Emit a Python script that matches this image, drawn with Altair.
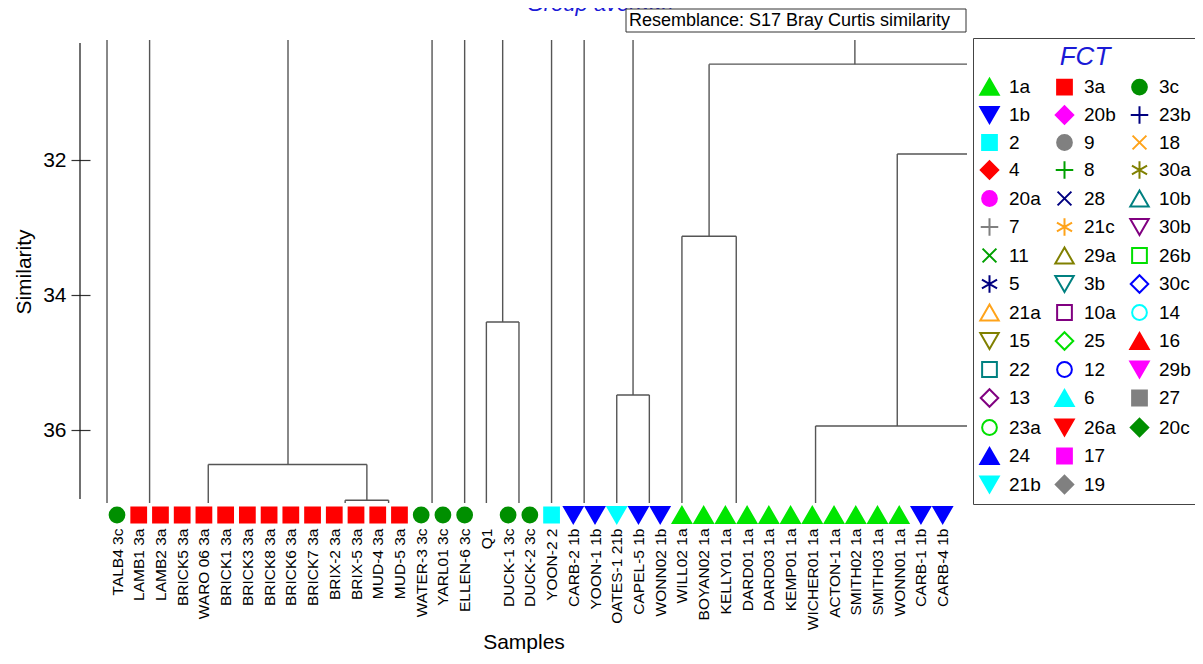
import json
import altair as alt
import pandas as pd

FONT = "Liberation Sans"

# ---------------- data ----------------
leaf_names = ["TALB4 3c", "LAMB1 3a", "LAMB2 3a", "BRICK5 3a", "WARO 06 3a", "BRICK1 3a",
              "BRICK3 3a", "BRICK8 3a", "BRICK6 3a", "BRICK7 3a", "BRIX-2 3a", "BRIX-5 3a",
              "MUD-4 3a", "MUD-5 3a", "WATER-3 3c", "YARL01 3c", "ELLEN-6 3c", "Q1",
              "DUCK-1 3c", "DUCK-2 3c", "YOON-2 2", "CARB-2 1b", "YOON-1 1b", "OATES-1 21b",
              "CAPEL-5 1b", "WONN02 1b", "WILL02 1a", "BOYAN02 1a", "KELLY01 1a", "DARD01 1a",
              "DARD03 1a", "KEMP01 1a", "WICHER01 1a", "ACTON-1 1a", "SMITH02 1a", "SMITH03 1a",
              "WONN01 1a", "CARB-1 1b", "CARB-4 1b"]
leaf_fct = ["3c", "3a", "3a", "3a", "3a", "3a", "3a", "3a", "3a", "3a", "3a", "3a", "3a", "3a",
            "3c", "3c", "3c", "", "3c", "3c", "2", "1b", "1b", "21b", "1b", "1b",
            "1a", "1a", "1a", "1a", "1a", "1a", "1a", "1a", "1a", "1a", "1a", "1b", "1b"]

# dendrogram segments (x in leaf positions, y in similarity); parts beyond the window are clipped
seg_x1 = [-0.46, 1.5, 7.87, 4.2, 4.2, 11.5, 10.5, 10.5, 12.5, 14.5, 16.0,
          17.75, 17.0, 17.0, 18.5, 20.0, 21.5, 23.75, 23.0, 23.0, 24.5,
          33.96, 27.25, 27.25, 26.0, 26.0, 28.5, 35.91, 35.91, 32.15, 32.15]
seg_x2 = [-0.46, 1.5, 7.87, 11.5, 4.2, 11.5, 12.5, 10.5, 12.5, 14.5, 16.0,
          17.75, 18.5, 17.0, 18.5, 20.0, 21.5, 23.75, 24.5, 23.0, 24.5,
          33.96, 41.0, 27.25, 28.5, 26.0, 28.5, 41.0, 35.91, 41.0, 32.15]
seg_y1 = [30.0, 30.0, 30.0, 36.51, 36.51, 36.51, 37.04, 37.04, 37.04, 30.0, 30.0,
          30.0, 34.40, 34.40, 34.40, 30.0, 30.0, 30.0, 35.48, 35.48, 35.48,
          30.0, 30.58, 30.58, 33.13, 33.13, 33.13, 31.91, 31.91, 35.94, 35.94]
seg_y2 = [37.3, 37.3, 36.51, 36.51, 37.3, 37.04, 37.04, 37.3, 37.3, 37.3, 37.3,
          34.40, 34.40, 37.3, 37.3, 37.3, 37.3, 35.48, 35.48, 37.3, 37.3,
          30.58, 30.58, 33.13, 33.13, 37.3, 37.3, 31.91, 35.94, 35.94, 37.3]

y_ticks = [32, 34, 36]

# legend entries, column by column (3 columns); " " is an empty slot
fct_codes = ["1a", "1b", "2", "4", "20a", "7", "11", "5", "21a", "15", "22", "13", "23a", "24", "21b",
             "3a", "20b", "9", "8", "28", "21c", "29a", "3b", "10a", "25", "12", "6", "26a", "17", "19",
             "3c", "23b", "18", "30a", "10b", "30b", "26b", "30c", "14", "16", "29b", "27", "20c", " "]
fct_kind = ["tri_up", "tri_down", "square", "diamond", "circle", "plus", "x", "star",
            "tri_up", "tri_down", "square", "diamond", "circle", "tri_up", "tri_down",
            "square", "diamond", "circle", "plus", "x", "star", "tri_up", "tri_down",
            "square", "diamond", "circle", "tri_up", "tri_down", "square", "diamond",
            "circle", "plus", "x", "star", "tri_up", "tri_down", "square", "diamond",
            "circle", "tri_up", "tri_down", "square", "diamond", "square"]
fct_filled = [True, True, True, True, True, False, False, False,
              False, False, False, False, False, True, True,
              True, True, True, False, False, False, False, False,
              False, False, False, True, True, True, True,
              True, False, False, False, False, False, False, False,
              False, True, True, True, True, False]
fct_color = ["#00e600", "#0000ff", "#00ffff", "#ff0000", "#ff00ff", "#808080", "#00a000", "#000080",
             "#ffa31a", "#808000", "#008080", "#800080", "#00e000", "#0000ff", "#00ffff",
             "#ff0000", "#ff00ff", "#808080", "#00a000", "#000080", "#ffa31a", "#808000", "#008080",
             "#800080", "#00e000", "#0000ff", "#00ffff", "#ff0000", "#ff00ff", "#808080",
             "#008f00", "#000080", "#ffa31a", "#808000", "#008080", "#800080", "#00e000", "#0000ff",
             "#00ffff", "#ff0000", "#ff00ff", "#808080", "#008f00", "transparent"]

# ---------------- styling helpers ----------------
PATHS = {
    "tri_up": "M0,-0.87L1,0.87L-1,0.87Z",
    "tri_down": "M-1,-0.87L1,-0.87L0,0.87Z",
    "square": "M-0.8,-0.8L0.8,-0.8L0.8,0.8L-0.8,0.8Z",
    "circle": "M0.8,0A0.8,0.8 0 1,1 -0.8,0A0.8,0.8 0 1,1 0.8,0Z",
    "diamond": "M0,-0.95L0.95,0L0,0.95L-0.95,0Z",
    "plus": "M-0.95,0L0.95,0M0,-0.95L0,0.95",
    "x": "M-0.75,-0.75L0.75,0.75M-0.75,0.75L0.75,-0.75",
    "star": "M0,-0.95L0,0.95M-0.82,-0.47L0.82,0.47M-0.82,0.47L0.82,-0.47",
}
shape_range = [PATHS[k] for k in fct_kind]
fill_range = [c if f else "transparent" for c, f in zip(fct_color, fct_filled)]
stroke_range = fct_color

W, H = 887, 463
x_scale = alt.Scale(domain=[-1.703, 39.12], nice=False, zero=False)
y_scale = alt.Scale(domain=[30.222, 37.081], reverse=True, nice=False, zero=False)

x_axis = alt.Axis(
    values=list(range(len(leaf_names))),
    labelExpr=json.dumps(leaf_names) + "[datum.value]",
    labelAngle=-90, labelAlign="right", labelBaseline="middle", labelPadding=25,
    labelFontSize=15.5, labelFont=FONT, labelColor="black",
    labelOverlap=False, labelFlush=False, labelBound=False,
    domain=False, ticks=False, tickSize=0, grid=False,
    title="Samples", titleFont=FONT, titleFontSize=21, titleFontWeight="normal",
    titleColor="black", titleBaseline="alphabetic", titleY=145,
)
y_axis = alt.Axis(
    values=y_ticks, format="d", domain=False, tickSize=19, offset=-10,
    tickColor="#333", tickWidth=1.2, labelFontSize=21, labelFont=FONT,
    labelPadding=5, labelColor="black", grid=False,
    title="Similarity", titleFont=FONT, titleFontSize=21, titleFontWeight="normal",
    titleColor="black", titlePadding=8,
)

legend = alt.Legend(
    title="FCT", orient="none", legendX=893, legendY=-2, columns=3, padding=6,
    strokeColor="#444", fillColor="white",
    titleFont=FONT, titleFontSize=26, titleFontStyle="italic", titleFontWeight="normal",
    titleColor="#1a1ad6", titleAnchor="middle", titlePadding=6,
    labelFont=FONT, labelFontSize=19, labelColor="black", labelOffset=9,
    symbolSize=340, symbolStrokeWidth=2, rowPadding=2.5, columnPadding=10,
    symbolLimit=60,
)

seg_df = pd.DataFrame({"x1": seg_x1, "x2": seg_x2, "y1": seg_y1, "y2": seg_y2})
segments = alt.Chart(seg_df).mark_rule(clip=True, color="#555", strokeWidth=1.4).encode(
    x=alt.X("x1:Q", scale=x_scale, axis=x_axis),
    x2="x2:Q",
    y=alt.Y("y1:Q", scale=y_scale, axis=y_axis),
    y2="y2:Q",
)

leaf_df = pd.DataFrame({"idx": list(range(len(leaf_names))), "name": leaf_names, "fct": leaf_fct})
markers = alt.Chart(leaf_df).transform_filter("datum.fct != ''").mark_point(
    filled=True, size=340, strokeWidth=2, opacity=1
).encode(
    x=alt.X("idx:Q", scale=x_scale, axis=x_axis),
    y=alt.value(475),
    shape=alt.Shape("fct:N", scale=alt.Scale(domain=fct_codes, range=shape_range), legend=legend),
    fill=alt.Fill("fct:N", scale=alt.Scale(domain=fct_codes, range=fill_range), legend=legend),
    stroke=alt.Stroke("fct:N", scale=alt.Scale(domain=fct_codes, range=stroke_range), legend=legend),
)

one = pd.DataFrame({"t": ["Group average"], "r": ["Resemblance: S17 Bray Curtis similarity"]})
axis_line = alt.Chart(one).mark_rule(color="#111", strokeWidth=1.2).encode(
    x=alt.value(0), y=alt.value(3), y2=alt.value(459))
title_text = alt.Chart(one).mark_text(font=FONT, fontSize=22, fontStyle="italic", align="center",
                                      baseline="alphabetic", color="#1a1ad6").encode(
    text="t:N", x=alt.value(520), y=alt.value(-29))
res_rect = alt.Chart(one).mark_rect(fill="white", stroke="#333", strokeWidth=1).encode(
    x=alt.value(546), x2=alt.value(886), y=alt.value(-31), y2=alt.value(-8))
res_text = alt.Chart(one).mark_text(font=FONT, fontSize=18, align="left", baseline="middle",
                                    color="black").encode(
    text="r:N", x=alt.value(549), y=alt.value(-19.5))

chart = alt.layer(segments, markers, axis_line, title_text, res_rect, res_text).properties(
    width=W, height=H,
    padding={"left": 72, "top": 32, "right": 228, "bottom": 152},
    autosize=alt.AutoSizeParams(type="none"),
).configure_view(stroke=None)

chart.save("out.html", embed_options={"renderer": "svg", "actions": False})
